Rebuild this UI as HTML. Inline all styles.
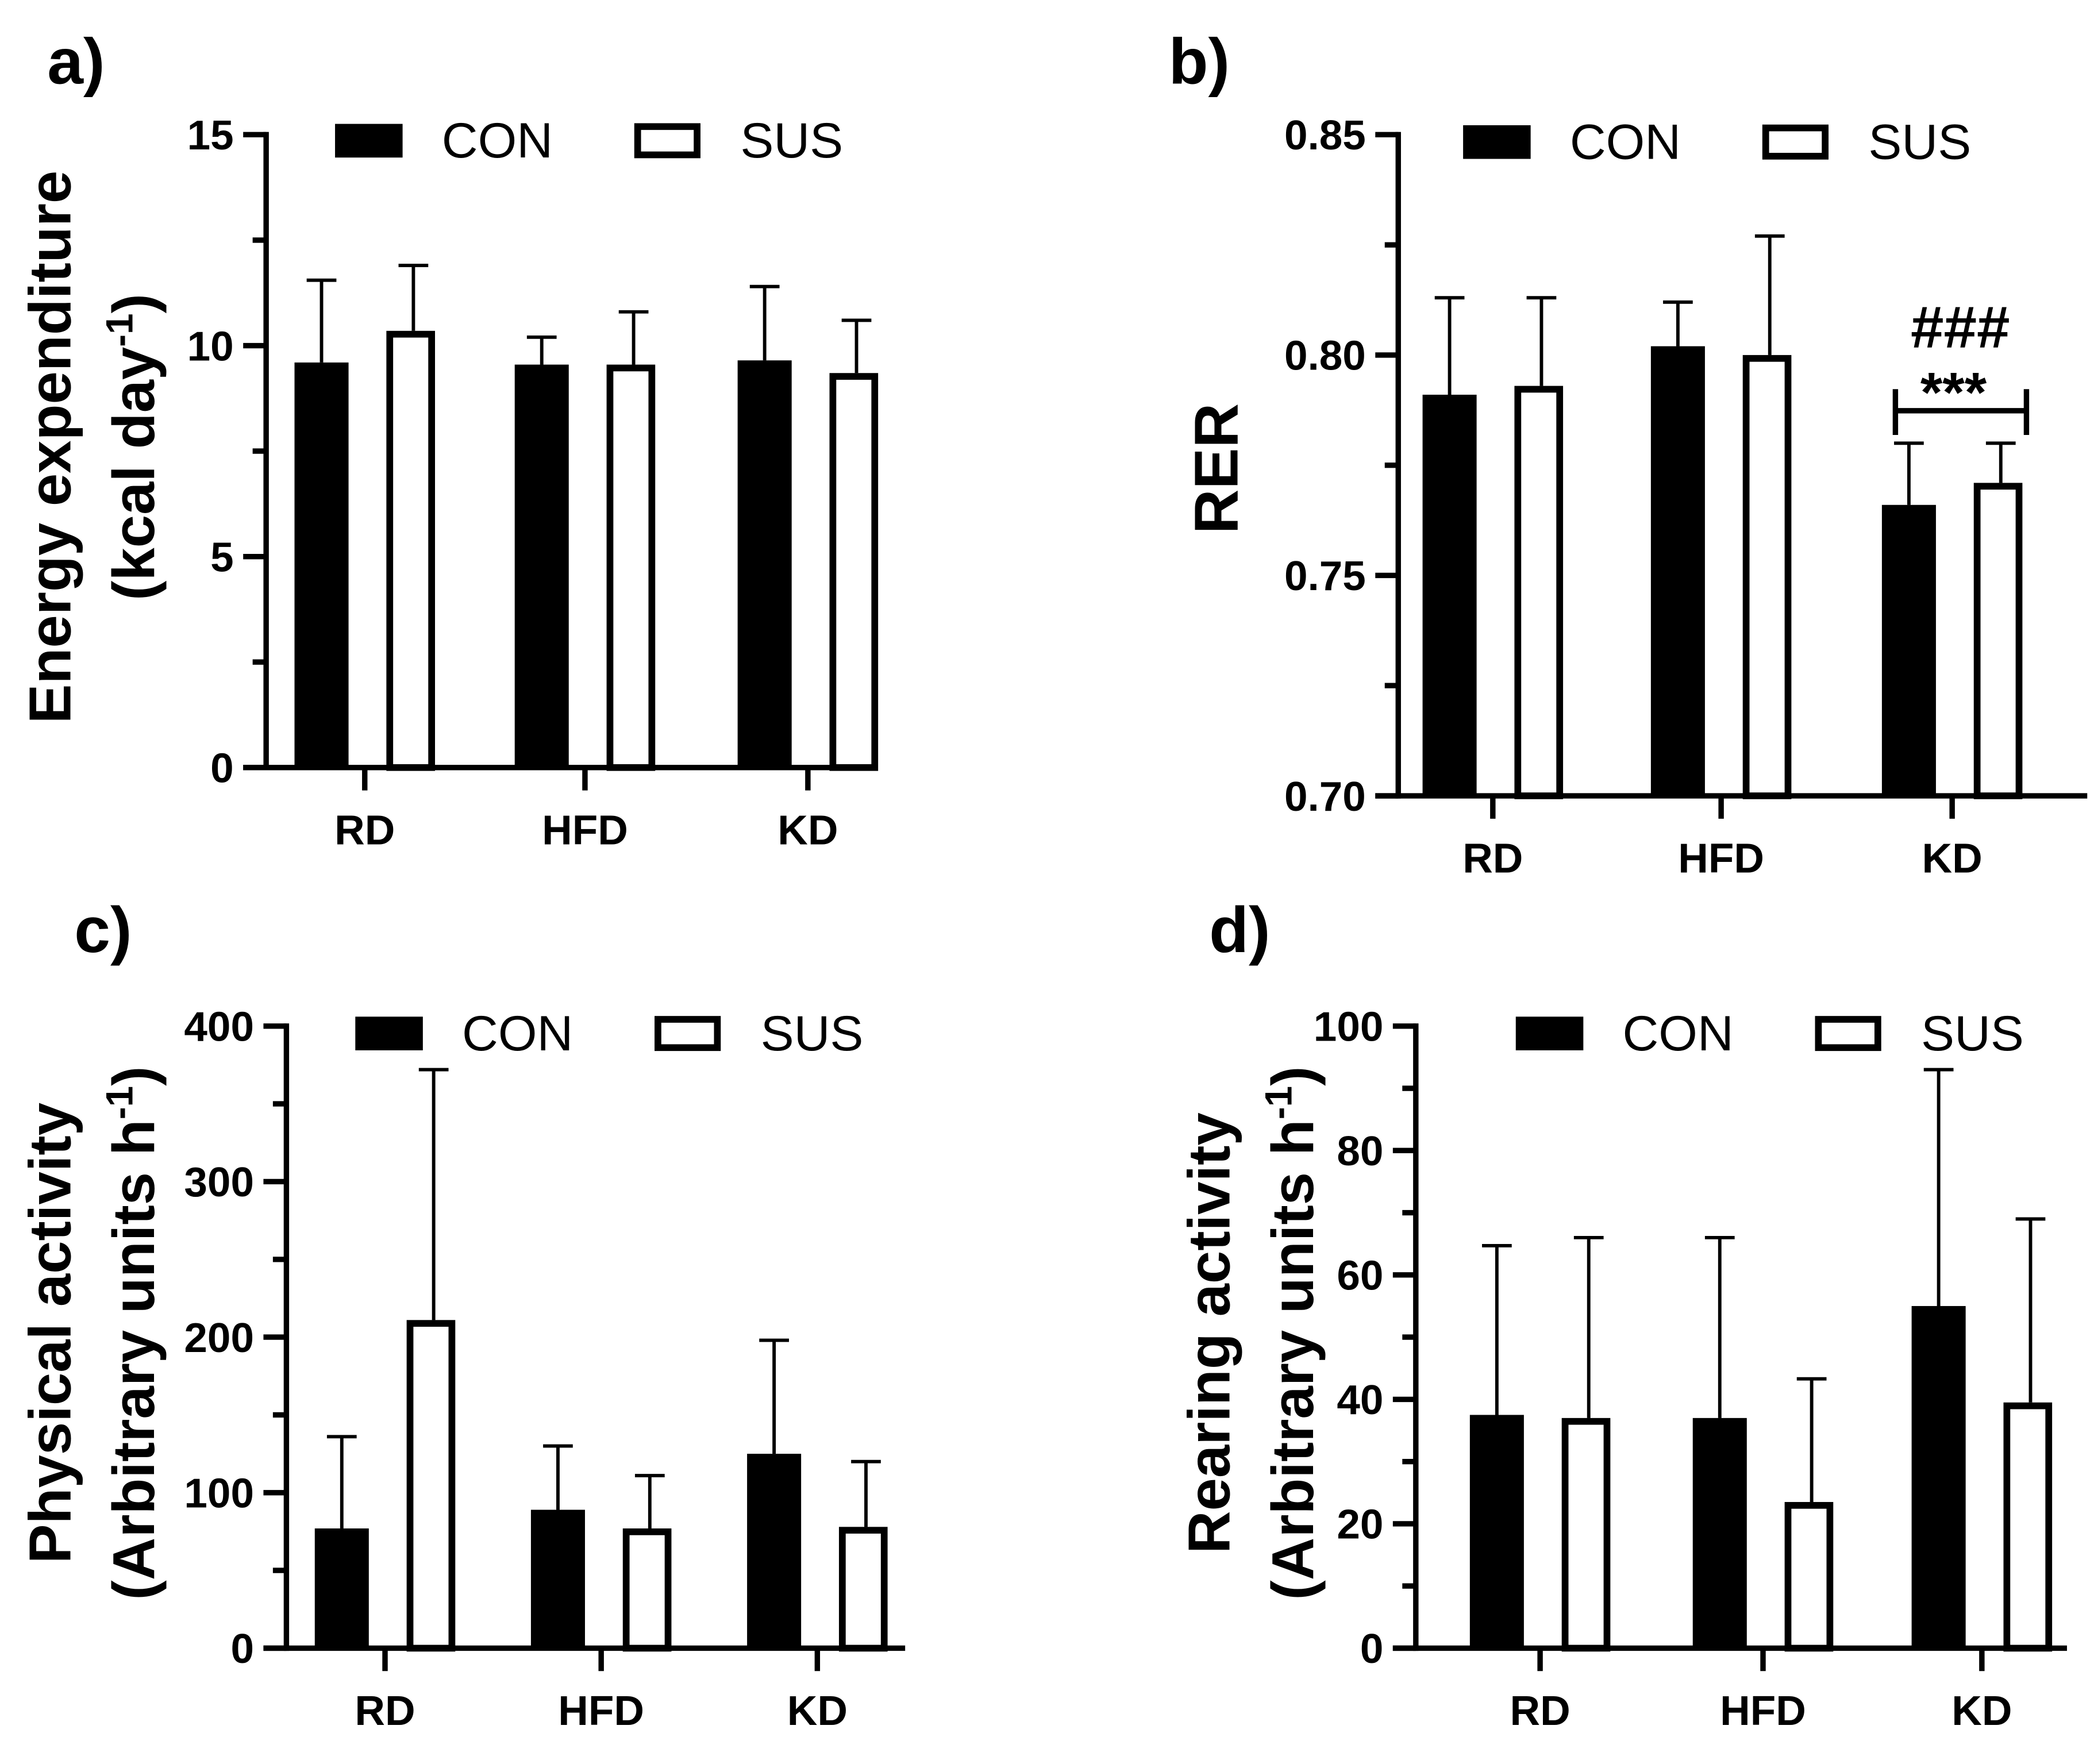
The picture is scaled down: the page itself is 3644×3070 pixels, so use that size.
<!DOCTYPE html>
<html><head><meta charset="utf-8"><style>
html,body{margin:0;padding:0;background:#fff;}
svg{display:block;font-family:"Liberation Sans",Arial,sans-serif;}
</style></head><body>
<svg id="fig" width="3644" height="3070" viewBox="0 0 1550 1310" preserveAspectRatio="none" xmlns="http://www.w3.org/2000/svg"></svg>
<script>
const categories = ["RD","HFD","KD"];
const aCon = [9.6, 9.55, 9.65], aSus = [10.35, 9.55, 9.35];
const aConErr = [11.55, 10.2, 11.4], aSusErr = [11.9, 10.8, 10.6];
const aTicks = ["0","5","10","15"];
const bCon = [0.791, 0.802, 0.766], bSus = [0.793, 0.800, 0.771];
const bConErr = [0.813, 0.812, 0.780], bSusErr = [0.813, 0.827, 0.780];
const bTicks = ["0.70","0.75","0.80","0.85"];
const cCon = [77, 89, 125], cSus = [211, 77, 78];
const cConErr = [136, 130, 198], cSusErr = [372, 111, 120];
const cTicks = ["0","100","200","300","400"];
const dCon = [37.5, 37, 55], dSus = [37, 23.5, 39.5];
const dConErr = [64.7, 66, 93], dSusErr = [66, 43.3, 69];
const dTicks = ["0","20","40","60","80","100"];

const NS="http://www.w3.org/2000/svg";
const svg=document.getElementById('fig');
function mk(tag,attrs,parent){const e=document.createElementNS(NS,tag);for(const k in attrs)e.setAttribute(k,attrs[k]);(parent||svg).appendChild(e);return e;}
function txt(s,attrs,parent){const e=mk('text',attrs,parent);e.textContent=s;return e;}

function panel(p){
  const g=mk('g',{});
  
  
  const ticks=p.ticks.map(Number);
  const ymin=ticks[0], ymax=ticks[ticks.length-1];
  const Y=v=>p.y0+(v-ymin)/(ymax-ymin)*(p.yTop-p.y0);
  const L=txt(p.letter,{x:p.lx,y:p.ly,'font-size':48,'font-weight':'bold'},g);
  
  
  const ya=mk('line',{x1:p.ax,y1:p.yTop-2,x2:p.ax,y2:p.y0+2,stroke:'#000','stroke-width':4},g);
  
  
  const xa=mk('line',{x1:p.ax-17,y1:p.y0,x2:p.xEnd,y2:p.y0,stroke:'#000','stroke-width':4},g);
  
  
  for(let i=0;i<ticks.length;i++){
    const y=Y(ticks[i]);
    mk('line',{x1:p.ax-17,y1:y,x2:p.ax,y2:y,stroke:'#000','stroke-width':4},g);
    const t=txt(p.ticks[i],{x:p.ax-24,y:y+11,'font-size':31,'font-weight':'bold','text-anchor':'end'},g);
    
    
    if(i<ticks.length-1){const ym=Y((ticks[i]+ticks[i+1])/2);mk('line',{x1:p.ax-10,y1:ym,x2:p.ax,y2:ym,stroke:'#000','stroke-width':4},g);}
  }
  for(let i=0;i<categories.length;i++){
    const cx=p.gx[i];
    mk('line',{x1:cx,y1:p.y0,x2:cx,y2:p.y0+17,stroke:'#000','stroke-width':4},g);
    const t=txt(categories[i],{x:cx,y:p.y0+57,'font-size':31,'font-weight':'bold','text-anchor':'middle'},g);
    
    
    const w=p.bw;
    const conX=cx-p.off-w/2, susX=cx+p.off-w/2+4;
    const ec=mk('path',{d:`M${conX+w/2},${Y(p.con[i])} V${Y(p.conErr[i])} M${conX+w/2-11},${Y(p.conErr[i])} H${conX+w/2+11}`,stroke:'#000','stroke-width':2.5,fill:'none'},g);
    
    
    const es=mk('path',{d:`M${susX+w/2},${Y(p.sus[i])} V${Y(p.susErr[i])} M${susX+w/2-11},${Y(p.susErr[i])} H${susX+w/2+11}`,stroke:'#000','stroke-width':2.5,fill:'none'},g);
    
    
    const bc=mk('rect',{x:conX,y:Y(p.con[i]),width:w,height:p.y0-Y(p.con[i]),fill:'#000'},g);
    
    
    const bs=mk('rect',{x:susX+2.5,y:Y(p.sus[i])+2.5,width:w-9,height:p.y0-Y(p.sus[i])-2.5,fill:'#fff',stroke:'#000','stroke-width':5},g);
    
    
  }
  const lc=mk('rect',{x:p.legX,y:p.legY-12,width:50,height:25,fill:'#000'},g);
  
  
  const lt=txt('CON',{x:p.legX+79,y:p.legY+13,'font-size':37},g);
  
  
  const ls=mk('rect',{x:p.legX+224,y:p.legY-10,width:44,height:21,fill:'#fff',stroke:'#000','stroke-width':5},g);
  
  
  const lst=txt('SUS',{x:p.legX+300,y:p.legY+13,'font-size':37},g);
  
  
  const yt=mk('text',{transform:`translate(${p.tx},${p.ty}) rotate(-90)`,'font-size':p.tfs||44,'font-weight':'bold','text-anchor':'middle'},g);
  
  
  p.title.forEach((ln,k)=>{const ts=mk('tspan',{x:0,y:k*62},yt);ts.innerHTML=ln;});
  return {g,Y};
}

panel({name:'panel-a-energy-expenditure',letter:'a)',lx:35,ly:62,ax:197,yTop:100,y0:570,xEnd:630,gx:[270,433,598],bw:40,off:32,
  ticks:aTicks,con:aCon,sus:aSus,conErr:aConErr,susErr:aSusErr,legX:248,legY:104,tx:52,ty:332,
  title:['Energy expenditure','(kcal day<tspan dy="-16" font-size="28">-1</tspan><tspan dy="16">)</tspan>']});
const pb=panel({name:'panel-b-rer',letter:'b)',lx:865,ly:62,ax:1035,yTop:100,y0:591,xEnd:1545,gx:[1105,1274,1445],bw:40,off:32,
  ticks:bTicks,con:bCon,sus:bSus,conErr:bConErr,susErr:bSusErr,legX:1083,legY:105,tx:916,ty:348,tfs:46,
  title:['RER']});
const sig=mk('path',{d:'M1403,305 H1500 M1403,289 V323 M1500,289 V323',stroke:'#000','stroke-width':4,fill:'none'},pb.g);


const st=txt('***',{x:1446,y:306,'font-size':42,'font-weight':'bold','text-anchor':'middle'},pb.g);


const sh=txt('###',{x:1451,y:258,'font-size':44,'font-weight':'bold','text-anchor':'middle'},pb.g);


panel({name:'panel-c-physical-activity',letter:'c)',lx:55,ly:707,ax:212,yTop:762,y0:1224,xEnd:670,gx:[285,445,605],bw:40,off:32,
  ticks:cTicks,con:cCon,sus:cSus,conErr:cConErr,susErr:cSusErr,legX:263,legY:767,tx:52,ty:990,
  title:['Physical activity','(Arbitrary units h<tspan dy="-16" font-size="28">-1</tspan><tspan dy="16">)</tspan>']});
panel({name:'panel-d-rearing-activity',letter:'d)',lx:895,ly:707,ax:1048,yTop:762,y0:1224,xEnd:1530,gx:[1140,1305,1467],bw:40,off:32,
  ticks:dTicks,con:dCon,sus:dSus,conErr:dConErr,susErr:dSusErr,legX:1122,legY:767,tx:910,ty:990,
  title:['Rearing activity','(Arbitrary units h<tspan dy="-16" font-size="28">-1</tspan><tspan dy="16">)</tspan>']});
</script>
</body></html>
